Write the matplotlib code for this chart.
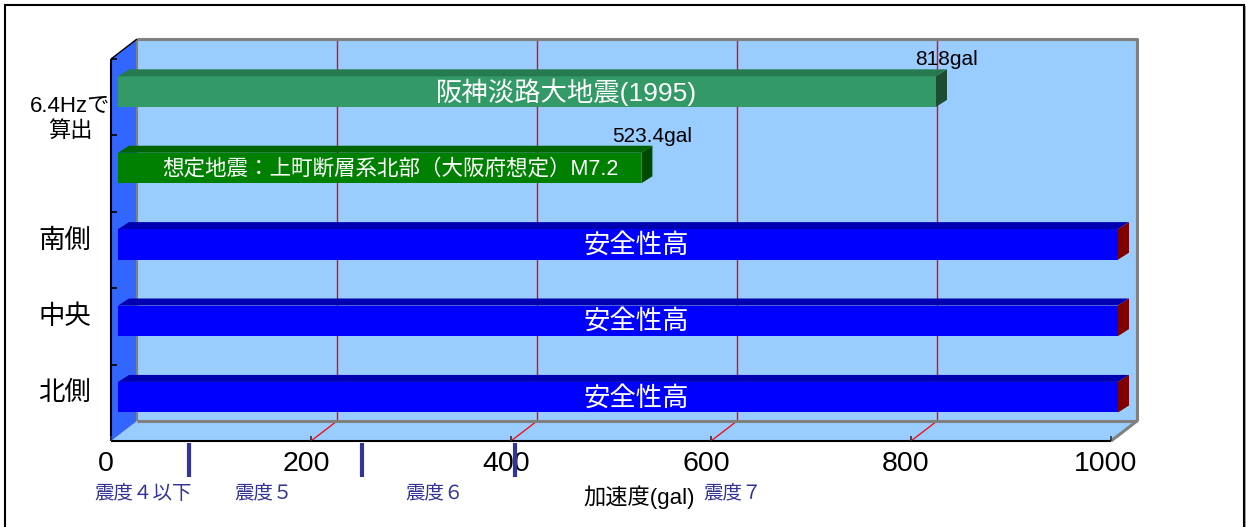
import numpy as np
import matplotlib.pyplot as plt
from matplotlib.patches import Polygon, Rectangle

plt.rcParams['font.family'] = ['Liberation Sans', 'Noto Sans CJK JP']

# データ (下から順)
categories = ['北側', '中央', '南側', '想定地震', '阪神淡路']
accel = [1000, 1000, 1000, 523.4, 818]
bar_texts = ['安全性高', '安全性高', '安全性高',
             '想定地震：上町断層系北部（大阪府想定）M7.2',
             '阪神淡路大地震(1995)']
value_labels = ['', '', '', '523.4gal', '818gal']
y_labels = ['北側', '中央', '南側', '', '']
hz_label = '6.4Hzで\n算出'
x_ticks = [0, 200, 400, 600, 800, 1000]
shindo_bounds = [78, 251, 404]
shindo_names = ['震度４以下', '震度５', '震度６', '震度７']

# 色
front_col = ['#0000ff', '#0000ff', '#0000ff', '#008000', '#339966']
top_col = ['#0000b0', '#0000b0', '#0000b0', '#006400', '#267a50']
side_col = ['#800000', '#800000', '#800000', '#004a00', '#1c4d33']
text_size = [19, 19, 19, 15.5, 19]
text_x = [525, 525, 525, 279, 455]
shindo_x = [32, 153, 324, 622]

W, H = 1246, 527
fig = plt.figure(figsize=(W / 100, H / 100), dpi=100)
ax = fig.add_axes([111 / W, (H - 441) / H, 1000 / W, 382 / H])
ax.set_xlim(0, 1000)
ax.set_ylim(-0.5, 4.5)
ax.axis('off')

# ピクセル -> データ単位
px = 1000 / 1000
py = 5 / 382

DX, DY = 26 * px, 20 * py      # 奥行き
BX, BY = 7 * px, 5.6 * py      # 棒の位置
DX2, DY2 = 11 * px, 7 * py     # 棒の厚み
BH = 0.4
y0, y1 = -0.5, 4.5
wall = '#99ccff'

def poly(pts, fc, ec='none', lw=0, z=1):
    ax.add_patch(Polygon(pts, closed=True, fc=fc, ec=ec, lw=lw, zorder=z, clip_on=False))

def line(xs, ys, c, lw, z=2, **kw):
    ax.plot(xs, ys, color=c, lw=lw, zorder=z, clip_on=False, solid_capstyle='butt', **kw)

# 背面・床・側面
poly([(DX, y0 + DY), (1000 + DX, y0 + DY), (1000 + DX, y1 + DY), (DX, y1 + DY)], wall)
poly([(0, y0), (1000, y0), (1000 + DX, y0 + DY), (DX, y0 + DY)], wall)
poly([(0, y0), (0, y1), (DX, y1 + DY), (DX, y0 + DY)], '#3366ff')

# 目盛線
for v in x_ticks[1:-1]:
    line([v + DX, v + DX], [y0 + DY, y1 + DY], '#ff0000', 1.0, snap=True)
    line([v, v + DX], [y0, y0 + DY], '#ff0000', 0.9)

# 枠線
line([DX, 1000 + DX, 1000 + DX], [y1 + DY, y1 + DY, y0 + DY], '#808080', 2.2, z=3)
line([DX, 1000 + DX], [y0 + DY, y0 + DY], '#808080', 2.2, z=3)
line([1000, 1000 + DX], [y0, y0 + DY], '#808080', 2.2, z=3)
line([DX, DX], [y0 + DY, y1 + DY], '#808080', 1.5, z=3)
line([0, DX], [y1, y1 + DY], 'black', 1, z=3)
line([0, 0], [y0, y1], 'black', 1.5, z=3)
line([0, 1000], [y0, y0], 'black', 1.5, z=3)
for k in range(6):
    line([0, 6 * px], [y0 + k, y0 + k], 'black', 1.2, z=3)
for v in x_ticks:
    line([v, v], [y0, y0 + 5 * py], '#333333', 1.2, z=3)

# 棒グラフ
for i, v in enumerate(accel):
    c = i + BY
    ax.barh(c, v, height=BH, left=BX, color=front_col[i], zorder=5, clip_on=False)
    top = c + BH / 2
    bot = c - BH / 2
    poly([(BX, top), (BX + v, top), (BX + v + DX2, top + DY2), (BX + DX2, top + DY2)],
         top_col[i], z=5)
    poly([(BX + v, bot), (BX + v + DX2, bot + DY2), (BX + v + DX2, top + DY2), (BX + v, top)],
         side_col[i], z=5)
    ax.text(text_x[i], c - 1 * py, bar_texts[i], color='white', fontsize=text_size[i],
            ha='center', va='center', zorder=6)
    if value_labels[i]:
        ax.text(BX + v + DX2, top + DY2, value_labels[i], fontsize=15,
                ha='center', va='bottom', zorder=6)
    if y_labels[i]:
        ax.text(-46.5 * px, c + 4 * py, y_labels[i], fontsize=19,
                ha='center', va='center', clip_on=False)

ax.text(-41 * px, 3.715, hz_label, fontsize=16, ha='center', va='center',
        linespacing=1.25)

# 横軸ラベル
for v in x_ticks:
    ax.text(v - 5 * px, y0 - 23 * py, str(v), fontsize=20.5, ha='center', va='center')

# 震度の区切り
for b in shindo_bounds:
    line([b, b], [y0 - 2 * py, y0 - 36 * py], '#333399', 3, z=4)
for name, x in zip(shindo_names, shindo_x):
    ax.text(x, y0 - 53 * py, name, fontsize=14, color='#333399', ha='center', va='center')
ax.text(528, y0 - 56 * py, '加速度(gal)', fontsize=16, ha='center', va='center')

# 外枠
fig.add_artist(Rectangle((5 / W, -0.1), (1244 - 5) / W, (H - 5) / H + 0.1,
                         transform=fig.transFigure, fill=False, ec='black', lw=1.5))
fig.add_artist(plt.Line2D([1245.5 / W, 1245.5 / W], [0, (H - 7) / H],
                          transform=fig.transFigure, color='#a0a0a0', lw=1.5))

fig.savefig('out.png', dpi=100)
